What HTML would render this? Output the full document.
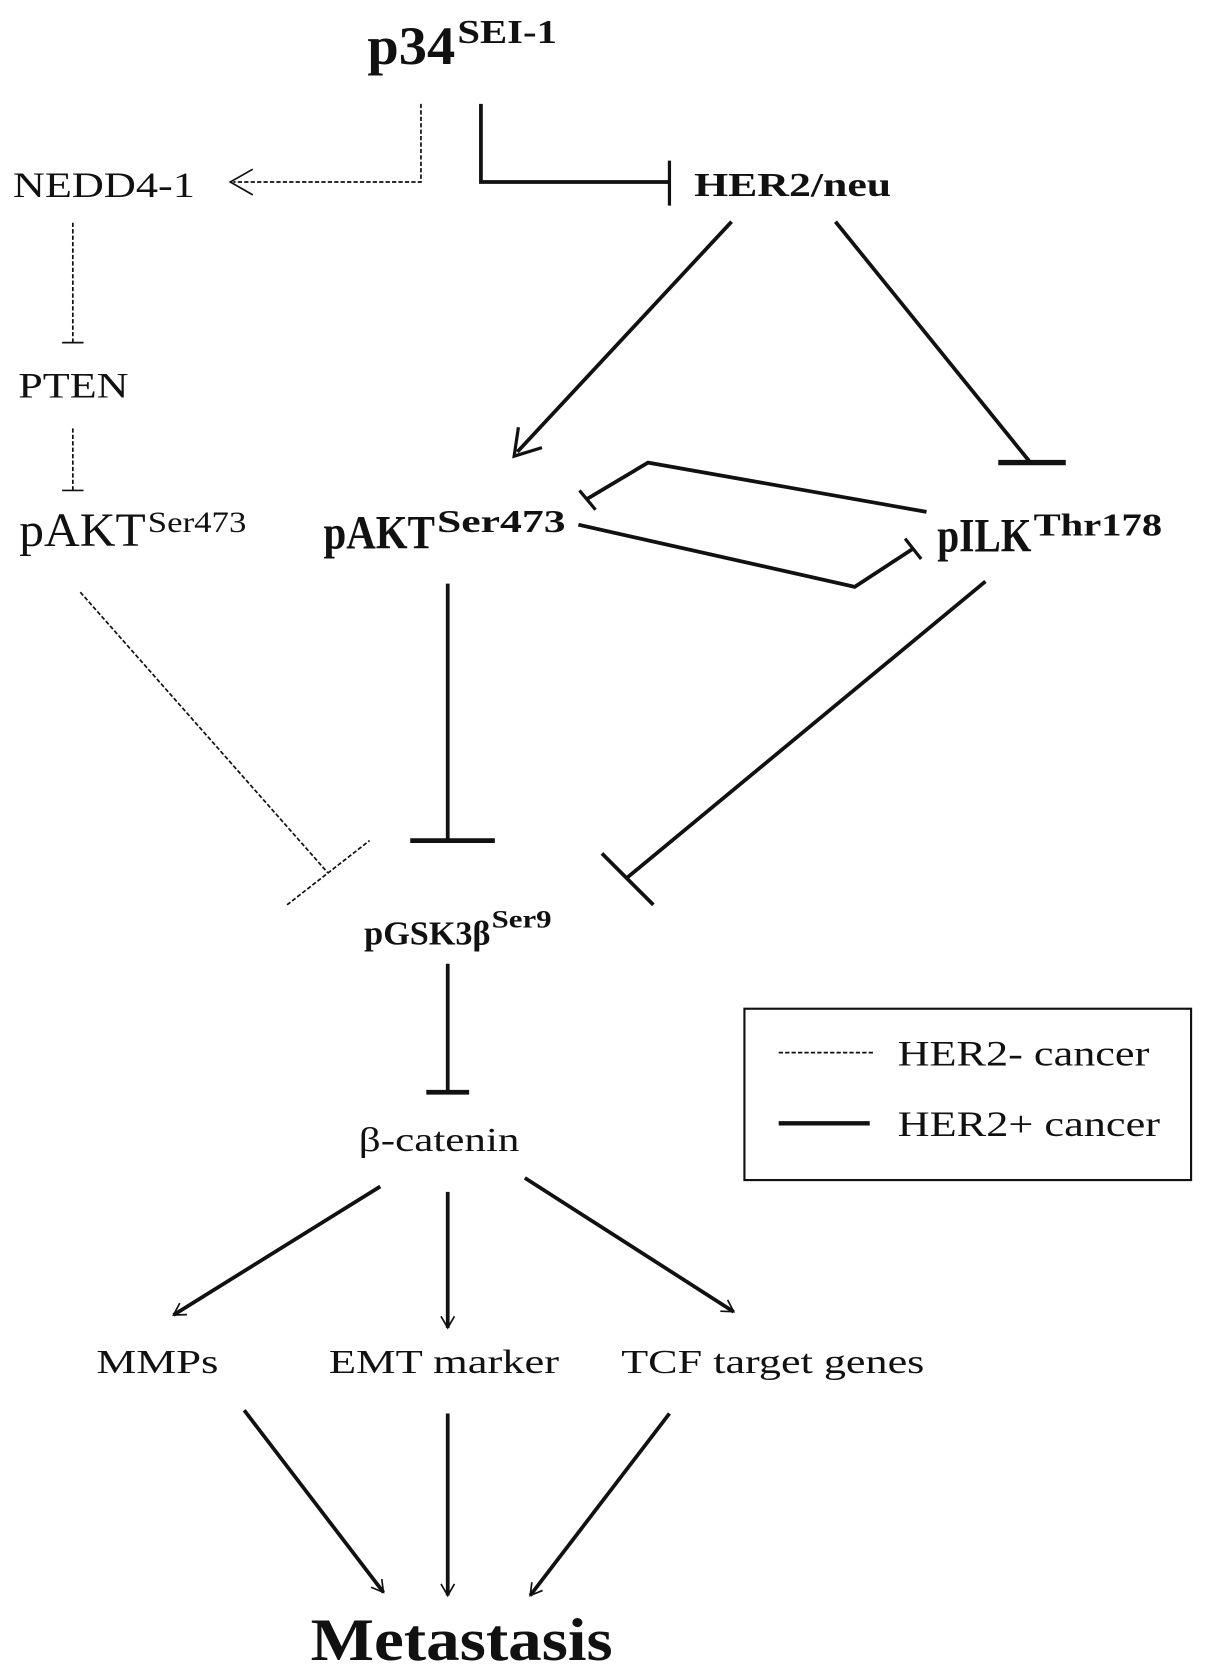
<!DOCTYPE html>
<html><head><meta charset="utf-8"><style>html,body{margin:0;padding:0;background:#fff}svg{display:block}</style></head>
<body>
<svg width="1205" height="1678" viewBox="0 0 1125 1567" preserveAspectRatio="none" xmlns="http://www.w3.org/2000/svg" font-family="Liberation Serif, serif" fill="#111">
<defs>
<marker id="ah" viewBox="0 0 20 20" refX="18" refY="10" markerWidth="9" markerHeight="9" markerUnits="userSpaceOnUse" orient="auto" overflow="visible">
<path d="M-6,-4 L18,10 L-6,24" fill="none" stroke="#111" stroke-width="3.5"/>
</marker>
</defs>
<g stroke="#111" fill="none">
<!-- dashed left -->
<g stroke-width="1.6" stroke-dasharray="4,2">
<polyline points="393,97 393,170 218,170"/>
<line x1="68" y1="208" x2="68" y2="320"/>
<line x1="68" y1="400" x2="68" y2="458"/>
<line x1="75" y1="553" x2="306" y2="815"/>
<line x1="268" y1="845" x2="345" y2="785"/>
<line x1="727" y1="983" x2="815" y2="983"/>
</g>
<g stroke-width="1.6">
<path d="M236,158 L215,170 L236,182"/>
<line x1="58" y1="320" x2="78" y2="320"/>
<line x1="58" y1="458" x2="78" y2="458"/>
</g>
<!-- solid -->
<g stroke-width="3.5">
<polyline points="449,97 449,170 625,170"/>
<line x1="625" y1="150" x2="625" y2="192" stroke-width="3"/>
<line x1="683" y1="207" x2="483" y2="422"/>
<path d="M484,399 L480,426 L506,418" stroke-width="3"/>
<line x1="780" y1="207" x2="962" y2="432"/>
<line x1="932" y1="432" x2="995" y2="432" stroke-width="5"/>
<polyline points="865,478 605,432 548,466"/>
<line x1="541" y1="458" x2="556" y2="476" stroke-width="3"/>
<polyline points="540,490 798,548 853,512"/>
<line x1="845" y1="503" x2="860" y2="522" stroke-width="3"/>
<line x1="418" y1="545" x2="418" y2="785"/>
<line x1="383" y1="785" x2="462" y2="785" stroke-width="4.5"/>
<line x1="920" y1="543" x2="585" y2="820"/>
<line x1="562" y1="797" x2="610" y2="845"/>
<line x1="418" y1="900" x2="418" y2="1020"/>
<line x1="398" y1="1020" x2="438" y2="1020" stroke-width="4.5"/>
<line x1="727" y1="1049" x2="812" y2="1049" stroke-width="4"/>
<line x1="355" y1="1108" x2="162" y2="1228" marker-end="url(#ah)"/>
<line x1="418" y1="1113" x2="418" y2="1240" marker-end="url(#ah)"/>
<line x1="490" y1="1100" x2="685" y2="1225" marker-end="url(#ah)"/>
<line x1="228" y1="1317" x2="358" y2="1487" marker-end="url(#ah)"/>
<line x1="418" y1="1320" x2="418" y2="1490" marker-end="url(#ah)"/>
<line x1="625" y1="1320" x2="495" y2="1490" marker-end="url(#ah)"/>
</g>
<rect x="695" y="942" width="417" height="160" stroke-width="2"/>
</g>
<g stroke="none">
<text x="343" y="60" font-size="50" font-weight="bold" textLength="82" lengthAdjust="spacingAndGlyphs">p34</text>
<text x="427" y="40" font-size="32" font-weight="bold" textLength="93" lengthAdjust="spacingAndGlyphs">SEI-1</text>
<text x="12" y="184" font-size="34" textLength="170" lengthAdjust="spacingAndGlyphs">NEDD4-1</text>
<text x="648" y="183" font-size="32" font-weight="bold" textLength="184" lengthAdjust="spacingAndGlyphs">HER2/neu</text>
<text x="17" y="371" font-size="34" textLength="103" lengthAdjust="spacingAndGlyphs">PTEN</text>
<text x="18" y="510" font-size="44" textLength="118" lengthAdjust="spacingAndGlyphs">pAKT</text>
<text x="138" y="497" font-size="28" textLength="92" lengthAdjust="spacingAndGlyphs">Ser473</text>
<text x="302" y="512" font-size="44" font-weight="bold" textLength="104" lengthAdjust="spacingAndGlyphs">pAKT</text>
<text x="408" y="497" font-size="30" font-weight="bold" textLength="120" lengthAdjust="spacingAndGlyphs">Ser473</text>
<text x="875" y="515" font-size="44" font-weight="bold" textLength="88" lengthAdjust="spacingAndGlyphs">pILK</text>
<text x="965" y="500" font-size="30" font-weight="bold" textLength="120" lengthAdjust="spacingAndGlyphs">Thr178</text>
<text x="340" y="882" font-size="32" font-weight="bold" textLength="118" lengthAdjust="spacingAndGlyphs">pGSK3β</text>
<text x="459" y="866" font-size="24" font-weight="bold" textLength="56" lengthAdjust="spacingAndGlyphs">Ser9</text>
<text x="335" y="1075" font-size="32" textLength="150" lengthAdjust="spacingAndGlyphs">β-catenin</text>
<text x="838" y="995" font-size="34" textLength="235" lengthAdjust="spacingAndGlyphs">HER2- cancer</text>
<text x="838" y="1061" font-size="34" textLength="245" lengthAdjust="spacingAndGlyphs">HER2+ cancer</text>
<text x="90" y="1282" font-size="32" textLength="114" lengthAdjust="spacingAndGlyphs">MMPs</text>
<text x="307" y="1282" font-size="32" textLength="215" lengthAdjust="spacingAndGlyphs">EMT marker</text>
<text x="580" y="1282" font-size="32" textLength="283" lengthAdjust="spacingAndGlyphs">TCF target genes</text>
<text x="290" y="1550" font-size="56" font-weight="bold" textLength="282" lengthAdjust="spacingAndGlyphs">Metastasis</text>
</g>
</svg>
</body></html>
